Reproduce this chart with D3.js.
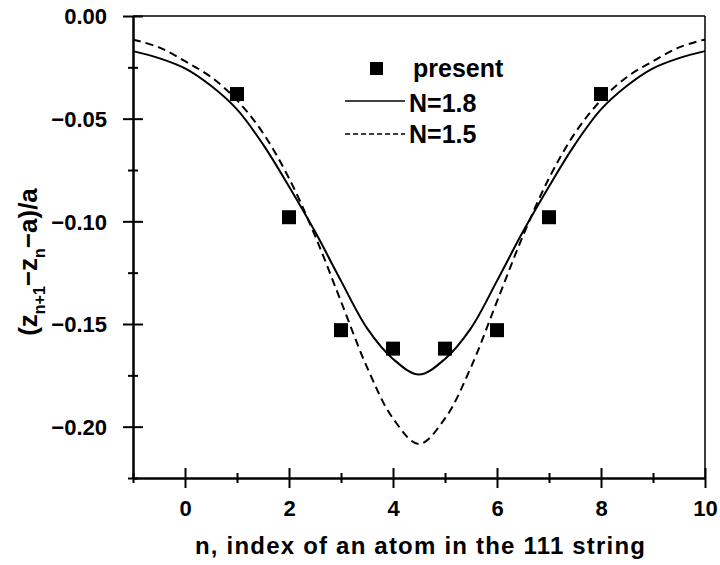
<!DOCTYPE html>
<html>
<head>
<meta charset="utf-8">
<script src="https://cdn.jsdelivr.net/npm/d3@7"></script>
<style>
  body { margin: 0; background: #fff; }
  text { font-family: "Liberation Sans", Arial, sans-serif; font-weight: bold; fill: #000; }
</style>
</head>
<body>
<div class="chart"></div>
<script>
// measured points
const presentN = [1, 2, 3, 4, 5, 6, 7, 8];
const presentVal = [-0.038, -0.098, -0.153, -0.162, -0.162, -0.153, -0.098, -0.038];

// model curves, every half step
const curveN = [-1, -0.5, 0, 0.5, 1, 1.5, 2, 2.5, 3, 3.5, 4, 4.5,
  5, 5.5, 6, 6.5, 7, 7.5, 8, 8.5, 9, 9.5, 10];
const n18Val = [-0.0171, -0.0205, -0.0255, -0.034, -0.0455, -0.0625, -0.083, -0.105, -0.129, -0.152, -0.167, -0.1746,
  -0.167, -0.152, -0.129, -0.105, -0.083, -0.0625, -0.0455, -0.034, -0.0255, -0.0205, -0.0171];
const n15Val = [-0.0114, -0.0153, -0.022, -0.0297, -0.041, -0.057, -0.079, -0.107, -0.139, -0.171, -0.196, -0.2084,
  -0.196, -0.171, -0.139, -0.107, -0.079, -0.057, -0.041, -0.0297, -0.022, -0.0153, -0.0114];

const xMajor = [0, 2, 4, 6, 8, 10];
const xMinor = [-1, 1, 3, 5, 7, 9];
const yMajor = [0, -0.05, -0.1, -0.15, -0.2];
const yMinor = [-0.025, -0.075, -0.125, -0.175, -0.225];

const width = 720;
const height = 565;
const plot = { left: 133, right: 705, top: 16, bottom: 478 };

const svg = d3
  .select(".chart")
  .append("svg")
  .attr("width", width)
  .attr("height", height);

const xScale = d3.scaleLinear().domain([-1, 10]).range([plot.left, plot.right]);
const yScale = d3.scaleLinear().domain([-0.225, 0]).range([plot.bottom, plot.top]);

// frame top / right
svg.append("line")
  .attr("x1", plot.left).attr("x2", plot.right)
  .attr("y1", plot.top).attr("y2", plot.top)
  .attr("stroke", "black").attr("stroke-width", 1.5);
svg.append("line")
  .attr("x1", plot.right).attr("x2", plot.right)
  .attr("y1", plot.top).attr("y2", plot.bottom)
  .attr("stroke", "black").attr("stroke-width", 1.5);

// curves
const curveLine = d3.line()
  .x((d, i) => xScale(curveN[i]))
  .y((d) => yScale(d))
  .curve(d3.curveCatmullRom);

svg.append("path")
  .datum(n18Val)
  .attr("d", curveLine)
  .attr("fill", "none")
  .attr("stroke", "black")
  .attr("stroke-width", 2);

svg.append("path")
  .datum(n15Val)
  .attr("d", curveLine)
  .attr("fill", "none")
  .attr("stroke", "black")
  .attr("stroke-width", 2)
  .attr("stroke-dasharray", "8,5");

// squares
const sq = 14;
svg.selectAll(".pt")
  .data(presentVal)
  .enter()
  .append("rect")
  .attr("class", "pt")
  .attr("x", (d, i) => xScale(presentN[i]) - sq / 2)
  .attr("y", (d) => yScale(d) - sq / 2)
  .attr("width", sq)
  .attr("height", sq)
  .attr("fill", "black");

// y axis
const yAxis = svg.append("g")
  .attr("transform", "translate(" + plot.left + ",0)")
  .call(d3.axisLeft(yScale).tickValues(yMajor).tickSize(10).tickSizeOuter(0)
    .tickPadding(16).tickFormat((d) => (d === 0 ? "0.00" : "\u2212" + d3.format(".2f")(-d))));
yAxis.select(".domain").attr("stroke-width", 2.5);
yAxis.selectAll(".tick line").attr("x2", 10).attr("x1", -10).attr("stroke-width", 2);
yAxis.selectAll(".tick text")
  .style("font-size", "22px")
  .style("font-family", "Liberation Sans, Arial, sans-serif")
  .style("font-weight", "bold")
  .attr("dy", "0.36em");

const yAxisMinor = svg.append("g")
  .attr("transform", "translate(" + plot.left + ",0)")
  .call(d3.axisLeft(yScale).tickValues(yMinor).tickSize(5).tickFormat(""));
yAxisMinor.select(".domain").remove();
yAxisMinor.selectAll(".tick line").attr("x1", 5).attr("x2", -5).attr("stroke-width", 2);

// x axis
const xAxis = svg.append("g")
  .attr("transform", "translate(0," + plot.bottom + ")")
  .call(d3.axisBottom(xScale).tickValues(xMajor).tickSize(10).tickSizeOuter(0).tickPadding(12));
xAxis.select(".domain").attr("stroke-width", 2.5);
xAxis.selectAll(".tick line").attr("y1", -10).attr("y2", 10).attr("stroke-width", 2);
xAxis.selectAll(".tick text")
  .style("font-size", "22px")
  .style("font-family", "Liberation Sans, Arial, sans-serif")
  .style("font-weight", "bold");

const xAxisMinor = svg.append("g")
  .attr("transform", "translate(0," + plot.bottom + ")")
  .call(d3.axisBottom(xScale).tickValues(xMinor).tickSize(5).tickFormat(""));
xAxisMinor.select(".domain").remove();
xAxisMinor.selectAll(".tick line").attr("y1", -5).attr("y2", 5).attr("stroke-width", 2);

// axis titles
svg.append("text")
  .attr("x", 420)
  .attr("y", 554)
  .attr("text-anchor", "middle")
  .style("font-size", "24px")
  .attr("textLength", 450)
  .attr("lengthAdjust", "spacing")
  .text("n, index of an atom in the 111 string");

const yTitle = svg.append("text")
  .attr("transform", "translate(37,262) rotate(-90)")
  .attr("text-anchor", "middle")
  .style("font-size", "26px");
yTitle.append("tspan").text("(z");
yTitle.append("tspan").attr("dy", 8).style("font-size", "16px").text("n+1");
yTitle.append("tspan").attr("dy", -8).text("\u2212z");
yTitle.append("tspan").attr("dy", 8).style("font-size", "16px").text("n");
yTitle.append("tspan").attr("dy", -8).text("\u2212a)/a");

// legend
const legend = svg.append("g");
legend.append("rect")
  .attr("x", 370).attr("y", 62).attr("width", 13).attr("height", 13)
  .attr("fill", "black");
legend.append("text").attr("x", 413).attr("y", 77).style("font-size", "25px").text("present");
legend.append("line")
  .attr("x1", 345).attr("x2", 405).attr("y1", 101).attr("y2", 101)
  .attr("stroke", "black").attr("stroke-width", 1.5);
legend.append("text").attr("x", 409).attr("y", 112).style("font-size", "25px").text("N=1.8");
legend.append("line")
  .attr("x1", 345).attr("x2", 405).attr("y1", 134).attr("y2", 134)
  .attr("stroke", "black").attr("stroke-width", 1.5)
  .attr("stroke-dasharray", "5,3");
legend.append("text").attr("x", 409).attr("y", 143).style("font-size", "25px").text("N=1.5");
</script>
</body>
</html>
